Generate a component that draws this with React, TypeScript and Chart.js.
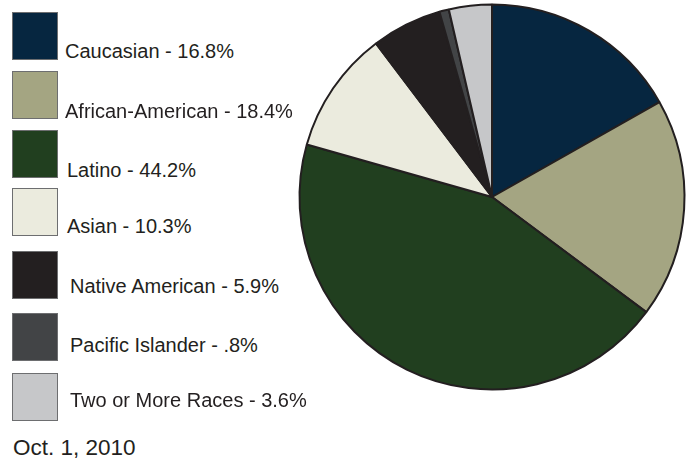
import React, { useEffect, useRef } from "react";
import { Chart, registerables } from "chart.js";

Chart.register(...registerables);

const labels = [
  "Caucasian",
  "African-American",
  "Latino",
  "Asian",
  "Native American",
  "Pacific Islander",
  "Two or More Races",
];
const values = [16.8, 18.4, 44.2, 10.3, 5.9, 0.8, 3.6];
const colors = ["#062640", "#a4a582", "#213f1f", "#ebebde", "#231f20", "#424446", "#c6c7c9"];
const dateLabel = "Oct. 1, 2010";

// legend layout (positions only)
const squareTops = [12, 71, 130, 188, 251, 313, 373];
const textBaselines = [57.5, 118, 176.5, 233, 293, 351.5, 407];
const textLefts = [65, 65, 67, 67, 70, 70, 70];

function fmt(v: number): string {
  const s = v.toFixed(1);
  return s.startsWith("0") ? s.slice(1) : s;
}

export default function App() {
  const ref = useRef<HTMLCanvasElement | null>(null);

  useEffect(() => {
    if (!ref.current) return;
    const chart = new Chart(ref.current, {
      type: "pie",
      data: {
        labels,
        datasets: [
          {
            data: values,
            backgroundColor: colors,
            borderColor: "#231f20",
            borderWidth: 2,
          },
        ],
      },
      options: {
        animation: false,
        responsive: false,
        radius: 192.5,
        layout: { padding: 0 },
        plugins: {
          legend: { display: false },
          tooltip: { enabled: false },
          title: { display: false },
        },
      } as any,
    });
    return () => chart.destroy();
  }, []);

  const font = "Arial, 'Liberation Sans', Helvetica, sans-serif";

  return (
    <div
      style={{
        position: "fixed",
        left: 0,
        top: 0,
        width: 693,
        height: 464,
        background: "#ffffff",
        overflow: "hidden",
        fontFamily: font,
        color: "#231f20",
      }}
    >
      <div style={{ position: "absolute", left: 292, top: 0, width: 400, height: 394 }}>
        <canvas ref={ref} width={400} height={394} style={{ display: "block" }} />
      </div>
      {labels.map((l, i) => (
        <React.Fragment key={l}>
          <div
            style={{
              position: "absolute",
              left: 12,
              top: squareTops[i],
              width: 44,
              height: 46,
              background: colors[i],
              border: "1px solid #6d6e70",
            }}
          />
          <div
            style={{
              position: "absolute",
              left: textLefts[i],
              top: textBaselines[i] - 17,
              fontSize: 20,
              lineHeight: "20px",
              whiteSpace: "nowrap",
            }}
          >
            {`${l} - ${fmt(values[i])}%`}
          </div>
        </React.Fragment>
      ))}
      <div
        style={{
          position: "absolute",
          left: 13,
          top: 456 - 19,
          fontSize: 22.5,
          lineHeight: "22.5px",
          whiteSpace: "nowrap",
        }}
      >
        {dateLabel}
      </div>
    </div>
  );
}
